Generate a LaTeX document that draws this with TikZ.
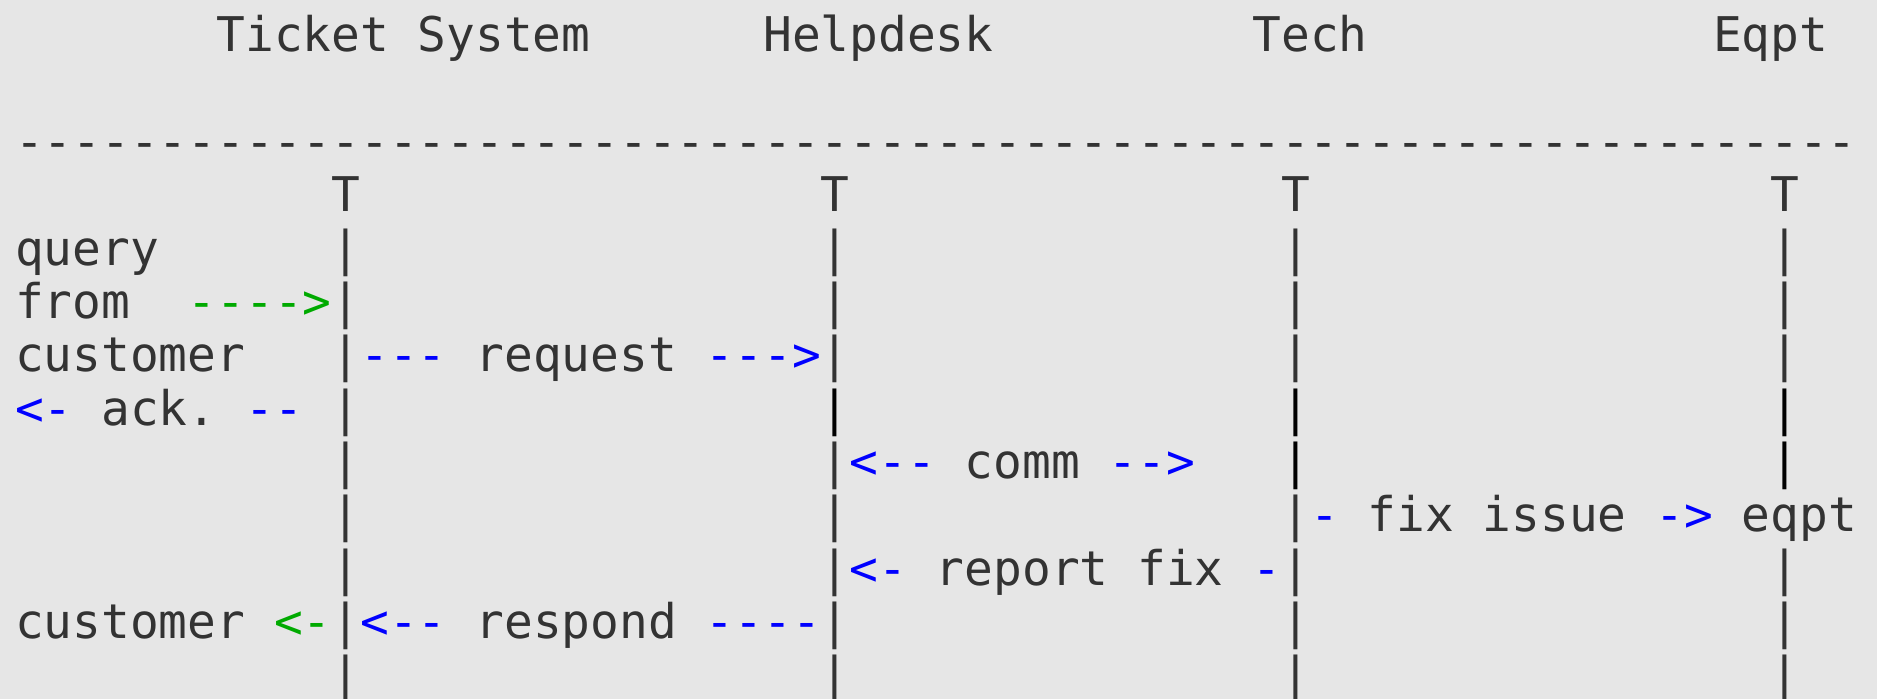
\documentclass[tikz,border=0pt]{standalone}
\usepackage{fontspec}
\setmonofont{DejaVu Sans Mono}
\definecolor{bg}{HTML}{E6E6E6}
\definecolor{ink}{HTML}{333333}
\definecolor{arrowblue}{HTML}{0000FF}
\definecolor{arrowgreen}{HTML}{00AA00}
\newcommand\tcell[5]{\node[#1] (#2) at ({7.5+(#3)*14.39},{-26-(#4)*26.65}) {#5};}
\begin{document}
\begin{tikzpicture}[x=1pt,y=1pt,
  txt/.style={anchor=base west, inner sep=0pt, outer sep=0pt, text=ink, font=\ttfamily\fontsize{23.9}{28}\selectfont},
  blu/.style={txt, text=arrowblue},
  grn/.style={txt, text=arrowgreen},
  dark/.style={txt, text=black}]
\fill[bg] (0,0) rectangle (938.5,-349.5);
\useasboundingbox (0,0) rectangle (938.5,-349.5);
% header
\tcell{txt}{hTS}{7}{0}{Ticket System}
\tcell{txt}{hHD}{26}{0}{Helpdesk}
\tcell{txt}{hTE}{43}{0}{Tech}
\tcell{txt}{hEQ}{59}{0}{Eqpt}
\tcell{txt}{rule}{0}{2}{----------------------------------------------------------------}
% tops
\tcell{txt}{tTS}{11}{3}{T}
\tcell{txt}{tHD}{28}{3}{T}
\tcell{txt}{tTE}{44}{3}{T}
\tcell{txt}{tEQ}{61}{3}{T}
% lifelines
\foreach \r in {4,5,6,7,8,9,10,11,12}{\tcell{txt}{pTS\r}{11}{\r}{|}}
\foreach \r in {4,5,6,8,9,10,11,12}{\tcell{txt}{pHD\r}{28}{\r}{|}}
\foreach \r in {4,5,6,9,10,11,12}{\tcell{txt}{pTE\r}{44}{\r}{|}}
\foreach \r in {4,5,6,10,11,12}{\tcell{txt}{pEQ\r}{61}{\r}{|}}
\tcell{dark}{pHD7}{28}{7}{|}
\tcell{dark}{pTE7}{44}{7}{|}
\tcell{dark}{pTE8}{44}{8}{|}
\tcell{dark}{pEQ7}{61}{7}{|}
\tcell{dark}{pEQ8}{61}{8}{|}
% messages
\tcell{txt}{q1}{0}{4}{query}
\tcell{txt}{q2}{0}{5}{from}
\tcell{grn}{qa}{6}{5}{---->}
\tcell{txt}{q3}{0}{6}{customer}
\tcell{blu}{rqa}{12}{6}{---}
\tcell{txt}{rq}{16}{6}{request}
\tcell{blu}{rqb}{24}{6}{--->}
\tcell{blu}{aka}{0}{7}{<-}
\tcell{txt}{ak}{3}{7}{ack.}
\tcell{blu}{akb}{8}{7}{--}
\tcell{blu}{cma}{29}{8}{<--}
\tcell{txt}{cm}{33}{8}{comm}
\tcell{blu}{cmb}{38}{8}{-->}
\tcell{blu}{fxa}{45}{9}{-}
\tcell{txt}{fx}{47}{9}{fix issue}
\tcell{blu}{fxb}{57}{9}{->}
\tcell{txt}{eq}{60}{9}{eqpt}
\tcell{blu}{rfa}{29}{10}{<-}
\tcell{txt}{rf}{32}{10}{report fix}
\tcell{blu}{rfb}{43}{10}{-}
\tcell{txt}{cu}{0}{11}{customer}
\tcell{grn}{cua}{9}{11}{<-}
\tcell{blu}{rsa}{12}{11}{<--}
\tcell{txt}{rs}{16}{11}{respond}
\tcell{blu}{rsb}{24}{11}{----}
\end{tikzpicture}
\end{document}
